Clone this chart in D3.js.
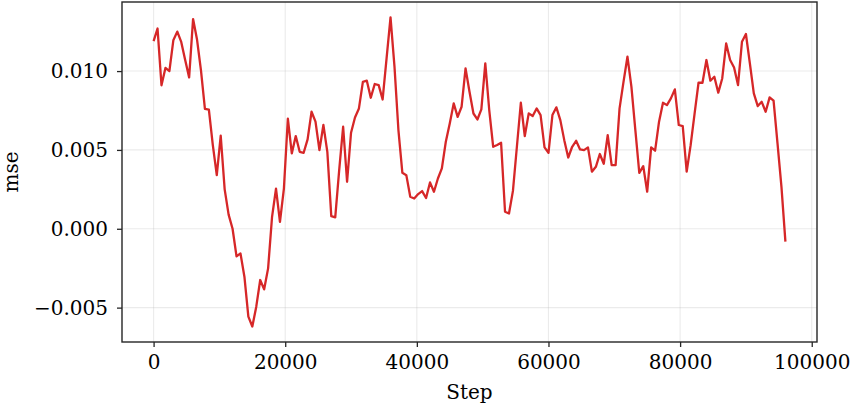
<!DOCTYPE html>
<html>
<head>
<meta charset="utf-8">
<script src="https://cdn.jsdelivr.net/npm/d3@7"></script>
<style>
    body { margin: 0; background: #fff; }
    svg { display: block; font-family: "DejaVu Serif", serif; }
</style>
</head>
<body>
<svg id="chart"></svg>
<script>
// training steps (logged every 600 steps)
var steps = [
    0, 600, 1200, 1800, 2400, 3000, 3600, 4200, 4800, 5400,
    6000, 6600, 7200, 7800, 8400, 9000, 9600, 10200, 10800, 11400,
    12000, 12600, 13200, 13800, 14400, 15000, 15600, 16200, 16800, 17400,
    18000, 18600, 19200, 19800, 20400, 21000, 21600, 22200, 22800, 23400,
    24000, 24600, 25200, 25800, 26400, 27000, 27600, 28200, 28800, 29400,
    30000, 30600, 31200, 31800, 32400, 33000, 33600, 34200, 34800, 35400,
    36000, 36600, 37200, 37800, 38400, 39000, 39600, 40200, 40800, 41400,
    42000, 42600, 43200, 43800, 44400, 45000, 45600, 46200, 46800, 47400,
    48000, 48600, 49200, 49800, 50400, 51000, 51600, 52200, 52800, 53400,
    54000, 54600, 55200, 55800, 56400, 57000, 57600, 58200, 58800, 59400,
    60000, 60600, 61200, 61800, 62400, 63000, 63600, 64200, 64800, 65400,
    66000, 66600, 67200, 67800, 68400, 69000, 69600, 70200, 70800, 71400,
    72000, 72600, 73200, 73800, 74400, 75000, 75600, 76200, 76800, 77400,
    78000, 78600, 79200, 79800, 80400, 81000, 81600, 82200, 82800, 83400,
    84000, 84600, 85200, 85800, 86400, 87000, 87600, 88200, 88800, 89400,
    90000, 90600, 91200, 91800, 92400, 93000, 93600, 94200, 94800, 95400,
    96000
];

var mse = [
    0.01190, 0.01270, 0.00910, 0.01020, 0.01000, 0.01195, 0.01250, 0.01185, 0.01070, 0.00960,
    0.01330, 0.01200, 0.01005, 0.00760, 0.00755, 0.00530, 0.00340, 0.00590, 0.00250, 0.00090,
    0.00000, -0.00175, -0.00156, -0.00304, -0.00557, -0.00620, -0.00494, -0.00325, -0.00384, -0.00251,
    0.00076, 0.00255, 0.00044, 0.00255, 0.00698, 0.00478, 0.00588, 0.00488, 0.00482, 0.00567,
    0.00742, 0.00679, 0.00499, 0.00658, 0.00488, 0.00080, 0.00072, 0.00372, 0.00647, 0.00298,
    0.00609, 0.00706, 0.00763, 0.00932, 0.00939, 0.00831, 0.00918, 0.00911, 0.00820, 0.01080,
    0.01340, 0.01030, 0.00626, 0.00355, 0.00340, 0.00203, 0.00192, 0.00220, 0.00239, 0.00195,
    0.00294, 0.00235, 0.00319, 0.00383, 0.00552, 0.00668, 0.00795, 0.00710, 0.00774, 0.01017,
    0.00869, 0.00731, 0.00693, 0.00757, 0.01049, 0.00753, 0.00520, 0.00531, 0.00545, 0.00108,
    0.00097, 0.00240, 0.00520, 0.00799, 0.00588, 0.00732, 0.00715, 0.00763, 0.00721, 0.00516,
    0.00482, 0.00721, 0.00770, 0.00689, 0.00562, 0.00452, 0.00520, 0.00558, 0.00503, 0.00499,
    0.00516, 0.00362, 0.00393, 0.00474, 0.00412, 0.00594, 0.00404, 0.00404, 0.00763, 0.00932,
    0.01091, 0.00901, 0.00626, 0.00355, 0.00397, 0.00235, 0.00516, 0.00495, 0.00679, 0.00799,
    0.00784, 0.00827, 0.00884, 0.00658, 0.00651, 0.00362, 0.00530, 0.00730, 0.00926, 0.00926,
    0.01070, 0.00939, 0.00964, 0.00863, 0.00953, 0.01175, 0.01070, 0.01023, 0.00911, 0.01186,
    0.01235, 0.01049, 0.00858, 0.00778, 0.00805, 0.00742, 0.00833, 0.00812, 0.00541, 0.00266,
    -0.00082
];

var xTicks = [0, 20000, 40000, 60000, 80000, 100000];
var yTicks = [-0.005, 0.000, 0.005, 0.010];

var svgW = 854, svgH = 406;
var padding = { left: 122, right: 37, top: 2, bottom: 64 };
var innerW = svgW - padding.left - padding.right;
var innerH = svgH - padding.top - padding.bottom;
var lineColor = "#d62728";
var frameColor = "#262626";
var fontSize = 20;

var data = steps.map(function (s, i) {
    return { step: s, value: mse[i] };
});

// matplotlib style 5% margins around the data
var xExt = d3.extent(steps), yExt = d3.extent(mse);
var xPad = (xExt[1] - xExt[0]) * 0.05, yPad = (yExt[1] - yExt[0]) * 0.05;
var xScale = d3.scaleLinear().domain([xExt[0] - xPad, xExt[1] + xPad]).range([0, innerW]);
var yScale = d3.scaleLinear().domain([yExt[0] - yPad, yExt[1] + yPad]).range([innerH, 0]);

var svg = d3.select("#chart").attr("width", svgW).attr("height", svgH);
var rootG = svg.append("g").attr("transform", `translate(${padding.left},${padding.top})`);

// grid
var gridG = rootG.append("g").attr("class", "grid");
gridG.selectAll("line.vgrid")
    .data(xTicks)
    .enter().append("line")
    .attr("class", "vgrid")
    .attr("x1", xScale).attr("x2", xScale)
    .attr("y1", 0).attr("y2", innerH);
gridG.selectAll("line.hgrid")
    .data(yTicks)
    .enter().append("line")
    .attr("class", "hgrid")
    .attr("x1", 0).attr("x2", innerW)
    .attr("y1", yScale).attr("y2", yScale);
gridG.selectAll("line")
    .attr("stroke", "#b0b0b0")
    .attr("stroke-opacity", 0.25)
    .attr("stroke-width", 1.1);

// line
var line = d3.line()
    .x(function (d) { return xScale(d.step); })
    .y(function (d) { return yScale(d.value); });
rootG.append("path")
    .datum(data)
    .attr("fill", "none")
    .attr("stroke", lineColor)
    .attr("stroke-width", 2.3)
    .attr("stroke-linejoin", "round")
    .attr("d", line);

// axes
var xAxis = d3.axisBottom(xScale)
    .tickValues(xTicks)
    .tickSizeInner(5)
    .tickSizeOuter(0)
    .tickPadding(8)
    .tickFormat(d3.format("d"));
var yAxis = d3.axisLeft(yScale)
    .tickValues(yTicks)
    .tickSizeInner(5)
    .tickSizeOuter(0)
    .tickPadding(9)
    .tickFormat(d3.format(".3f"));

var xAxisG = rootG.append("g").attr("transform", `translate(0,${innerH})`).call(xAxis);
var yAxisG = rootG.append("g").call(yAxis);
[xAxisG, yAxisG].forEach(function (g) {
    g.select(".domain").remove();
    g.selectAll(".tick line").attr("stroke", frameColor).attr("stroke-width", 1.3);
    g.selectAll(".tick text")
        .attr("fill", "#000")
        .attr("font-family", "DejaVu Serif")
        .attr("font-size", fontSize);
});

// frame
rootG.append("rect")
    .attr("x", 0).attr("y", 0)
    .attr("width", innerW).attr("height", innerH)
    .attr("fill", "none")
    .attr("stroke", frameColor)
    .attr("stroke-width", 1.4);

// labels
svg.append("text")
    .attr("x", padding.left + innerW / 2)
    .attr("y", 399)
    .attr("text-anchor", "middle")
    .attr("font-size", fontSize)
    .text("Step");
svg.append("text")
    .attr("transform", `translate(18,${padding.top + innerH / 2}) rotate(-90)`)
    .attr("text-anchor", "middle")
    .attr("font-size", fontSize)
    .text("mse");
</script>
</body>
</html>
